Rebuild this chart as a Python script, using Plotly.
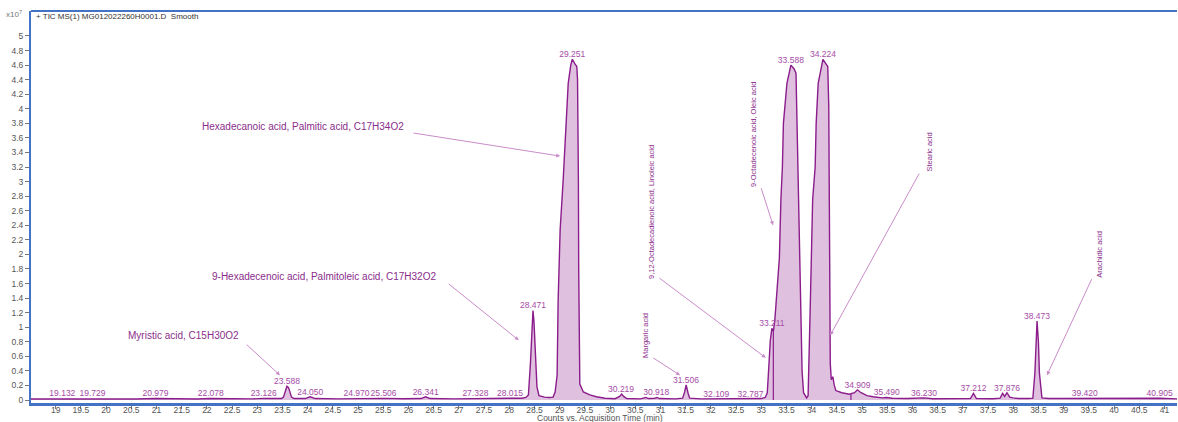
import plotly.graph_objects as go

# ---------------- data ----------------
rt_min = [
    18.51, 18.9, 19.132, 19.35, 19.729, 20.2, 20.6, 20.979, 21.4, 21.8, 22.078, 22.5, 22.9,
    23.126, 23.35, 23.48, 23.52, 23.56, 23.588, 23.62, 23.65, 23.68, 23.73, 23.95, 24.05,
    24.15, 24.6, 24.97, 25.2, 25.506, 25.9, 26.25, 26.341, 26.43, 26.9, 27.328, 27.7, 28.015,
    28.25, 28.33, 28.38, 28.42, 28.45, 28.471, 28.49, 28.52, 28.55, 28.59, 28.7, 28.8, 28.87,
    28.91, 28.95, 28.97, 29.01, 29.07, 29.14, 29.17, 29.22, 29.251, 29.3, 29.34, 29.355,
    29.365, 29.372, 29.378, 29.385, 29.40, 29.47, 29.6, 29.73, 29.9, 30.1, 30.19, 30.23,
    30.27, 30.33, 30.6, 30.68, 30.71, 30.76, 30.88, 30.93, 30.98, 31.3, 31.44, 31.48, 31.51,
    31.55, 31.58, 31.8, 32.109, 32.5, 32.787, 33.0, 33.08, 33.12, 33.15, 33.18, 33.211,
    33.24, 33.27, 33.3, 33.36, 33.39, 33.42, 33.44, 33.51, 33.588, 33.65, 33.69, 33.71,
    33.725, 33.77, 33.81, 33.84, 33.9, 33.93, 33.96, 33.98, 34.02, 34.07, 34.09, 34.13,
    34.224, 34.28, 34.32, 34.34, 34.35, 34.36, 34.37, 34.39, 34.42, 34.45, 34.48, 34.6,
    34.75, 34.85, 34.909, 34.98, 35.1, 35.22, 35.4, 35.49, 35.6, 35.9, 36.23, 36.4, 37.0,
    37.15, 37.212, 37.27, 37.6, 37.74, 37.79, 37.83, 37.876, 37.93, 38.0, 38.1, 38.3, 38.39,
    38.43, 38.45, 38.473, 38.5, 38.52, 38.57, 38.7, 39.0, 39.42, 39.8, 40.3, 40.6, 40.905,
    41.25,
]
tic_e7 = [
    0.014, 0.013, 0.02, 0.014, 0.02, 0.013, 0.014, 0.02, 0.013, 0.014, 0.02, 0.014, 0.015,
    0.022, 0.017, 0.02, 0.04, 0.12, 0.19, 0.17, 0.10, 0.04, 0.02, 0.02, 0.045,
    0.02, 0.016, 0.02, 0.016, 0.022, 0.017, 0.02, 0.045, 0.02, 0.016, 0.02, 0.016, 0.022,
    0.025, 0.035, 0.07, 0.5, 1.0, 1.23, 1.08, 0.6, 0.18, 0.06, 0.04, 0.035, 0.04,
    0.11, 0.34, 1.37, 2.34, 3.02, 3.94, 4.35, 4.6, 4.68, 4.62, 4.58, 4.4,
    3.8, 3.0, 1.8, 0.6, 0.22, 0.11, 0.07, 0.045, 0.025, 0.018, 0.05, 0.082,
    0.05, 0.02, 0.016, 0.03, 0.035, 0.02, 0.022, 0.035, 0.02, 0.016, 0.025, 0.11, 0.206,
    0.09, 0.025, 0.016, 0.018, 0.015, 0.018, 0.02, 0.035, 0.1, 0.45, 0.82, 0.985,
    0.94, 1.1, 1.4, 1.95, 2.75, 3.2, 3.8, 4.35, 4.6, 4.55, 4.49, 3.8,
    3.2, 1.37, 0.4, 0.1, 0.03, 0.06, 0.8, 1.5, 2.75, 3.2, 3.8, 4.35,
    4.68, 4.63, 4.58, 4.03, 3.2, 1.5, 0.5, 0.28, 0.32, 0.2, 0.13, 0.1,
    0.08, 0.1, 0.14, 0.1, 0.06, 0.045, 0.03, 0.035, 0.025, 0.02, 0.03, 0.018, 0.016,
    0.02, 0.09, 0.02, 0.017, 0.025, 0.09, 0.05, 0.1, 0.04, 0.03, 0.02, 0.02, 0.025,
    0.37, 0.8, 1.085, 0.8, 0.37, 0.03, 0.02, 0.02, 0.022, 0.016, 0.018, 0.022, 0.025,
    0.015,
]

# integration boundaries drawn as vertical marks (time, height at the boundary)
boundary_rt = [33.24, 34.78]
boundary_h = [0.94, 0.08]

peak_label_rt = [19.132, 19.729, 20.979, 22.078, 23.126, 23.588, 24.050, 24.970, 25.506,
                 26.341, 27.328, 28.015, 28.471, 29.251, 30.219, 30.918, 31.506, 32.109,
                 32.787, 33.211, 33.588, 34.224, 34.909, 35.490, 36.230, 37.212, 37.876,
                 38.473, 39.420, 40.905]
peak_label_h = [0.02, 0.02, 0.02, 0.02, 0.022, 0.19, 0.045, 0.02, 0.022,
                0.045, 0.02, 0.022, 1.23, 4.68, 0.082, 0.035, 0.206, 0.018,
                0.018, 0.985, 4.6, 4.68, 0.14, 0.035, 0.03, 0.09, 0.1,
                1.085, 0.022, 0.025]

compound_names = [
    "Myristic acid, C15H30O2",
    "9-Hexadecenoic acid, Palmitoleic acid, C17H32O2",
    "Hexadecanoic acid, Palmitic acid, C17H34O2",
    "Margaric acid",
    "9,12-Octadecadienoic acid, Linoleic acid",
    "9-Octadecenoic acid, Oleic acid",
    "Stearic acid",
    "Arachidic acid",
]

x_ticks = [19, 19.5, 20, 20.5, 21, 21.5, 22, 22.5, 23, 23.5, 24, 24.5, 25, 25.5, 26, 26.5,
           27, 27.5, 28, 28.5, 29, 29.5, 30, 30.5, 31, 31.5, 32, 32.5, 33, 33.5, 34, 34.5,
           35, 35.5, 36, 36.5, 37, 37.5, 38, 38.5, 39, 39.5, 40, 40.5, 41]
y_ticks = [0, 0.2, 0.4, 0.6, 0.8, 1, 1.2, 1.4, 1.6, 1.8, 2, 2.2, 2.4, 2.6, 2.8, 3, 3.2,
           3.4, 3.6, 3.8, 4, 4.2, 4.4, 4.6, 4.8, 5]

# ---------------- styling ----------------
LINE = "#8b1c8b"
FILL = "#dfc1df"
LABEL = "#a64ca6"
TEXT = "#8a2d8a"
ARROW = "#c98cc9"
FRAME = "#4472c4"
FONT = "Liberation Sans, Arial, sans-serif"

fig = go.Figure()
fig.add_trace(go.Scatter(
    x=rt_min, y=tic_e7, mode="lines", fill="tozeroy", fillcolor=FILL,
    line=dict(color=LINE, width=1.4), hoverinfo="x+y", showlegend=False,
))

bx, by = [], []
for t, h in zip(boundary_rt, boundary_h):
    bx += [t, t, None]
    by += [0, h, None]
fig.add_trace(go.Scatter(x=bx, y=by, mode="lines", line=dict(color=LINE, width=1.2),
                         hoverinfo="skip", showlegend=False))

fig.add_trace(go.Scatter(
    x=peak_label_rt, y=peak_label_h, mode="text",
    text=[f"{t:.3f}" for t in peak_label_rt], textposition="top center",
    textfont=dict(family=FONT, size=8.5, color=LABEL), showlegend=False, hoverinfo="skip",
))

# compound annotations: (text x, text y, angle, size, tail x, tail y, head x, head y)
ann_layout = [
    (21.53, 0.89, 0, 10, 22.76, 0.78, 23.45, 0.34),
    (24.33, 1.69, 0, 10, 26.77, 1.61, 28.19, 0.82),
    (23.90, 3.75, 0, 10, 26.07, 3.67, 29.01, 3.35),
    (30.69, 0.89, -90, 7.5, 30.83, 0.59, 31.39, 0.34),
    (30.81, 2.58, -90, 7.5, 30.95, 1.69, 33.09, 0.58),
    (32.85, 3.65, -90, 7.5, 32.99, 2.93, 33.235, 2.40),
    (36.33, 3.40, -90, 7.5, 36.15, 3.13, 34.37, 0.89),
    (39.71, 2.00, -90, 7.5, 39.57, 1.68, 38.67, 0.34),
]
annotations = []
for name, (tx, ty, ang, sz, ax, ay, hx, hy) in zip(compound_names, ann_layout):
    annotations.append(dict(x=tx, y=ty, xref="x", yref="y", text=name, showarrow=False,
                            textangle=ang, font=dict(family=FONT, size=sz, color=TEXT)))
    annotations.append(dict(x=hx, y=hy, ax=ax, ay=ay, xref="x", yref="y", axref="x", ayref="y",
                            text="", showarrow=True, arrowhead=2, arrowsize=0.8,
                            arrowwidth=1, arrowcolor=ARROW, standoff=0, startstandoff=0))

annotations += [
    dict(x=-0.0235, y=0.992, xref="paper", yref="paper", xanchor="left", yanchor="middle",
         text="x10<sup>7</sup>", showarrow=False, font=dict(family=FONT, size=8, color="#777")),
    dict(x=0.003, y=0.985, xref="paper", yref="paper", xanchor="left", yanchor="middle",
         text="+ TIC MS(1) MG012022260H0001.D  Smooth", showarrow=False,
         font=dict(family=FONT, size=8, color="#333")),
    dict(x=0.4965, y=-0.039, xref="paper", yref="paper", xanchor="center", yanchor="middle",
         text="Counts vs. Acquisition Time (min)", showarrow=False,
         font=dict(family=FONT, size=8.5, color="#555")),
]

fig.update_layout(
    width=1178, height=422,
    margin=dict(l=31, r=1, t=11, b=19),
    paper_bgcolor="white", plot_bgcolor="white",
    annotations=annotations,
    shapes=[dict(type="line", xref="paper", yref="paper", x0=0, x1=1, y0=1, y1=1,
                 line=dict(color=FRAME, width=2))],
    xaxis=dict(range=[18.51, 41.25], tickvals=x_ticks, ticktext=[f"{v:g}" for v in x_ticks],
               showgrid=False, zeroline=False, showline=True, linecolor=FRAME, linewidth=3,
               ticks="outside", ticklen=3, tickcolor="#777", tickwidth=1,
               ticklabelstandoff=-6,
               tickfont=dict(family=FONT, size=8.5, color="#555")),
    yaxis=dict(range=[-0.041, 5.343], tickvals=y_ticks, ticktext=[f"{v:g}" for v in y_ticks],
               showgrid=False, zeroline=False, showline=True, linecolor=FRAME, linewidth=2,
               ticks="outside", ticklen=4, tickcolor="#777", tickwidth=1,
               tickfont=dict(family=FONT, size=8.5, color="#555")),
)

fig.write_html("out.html", config={"displayModeBar": False},
               post_script="document.body.style.margin='0';document.body.style.overflow='hidden';")
